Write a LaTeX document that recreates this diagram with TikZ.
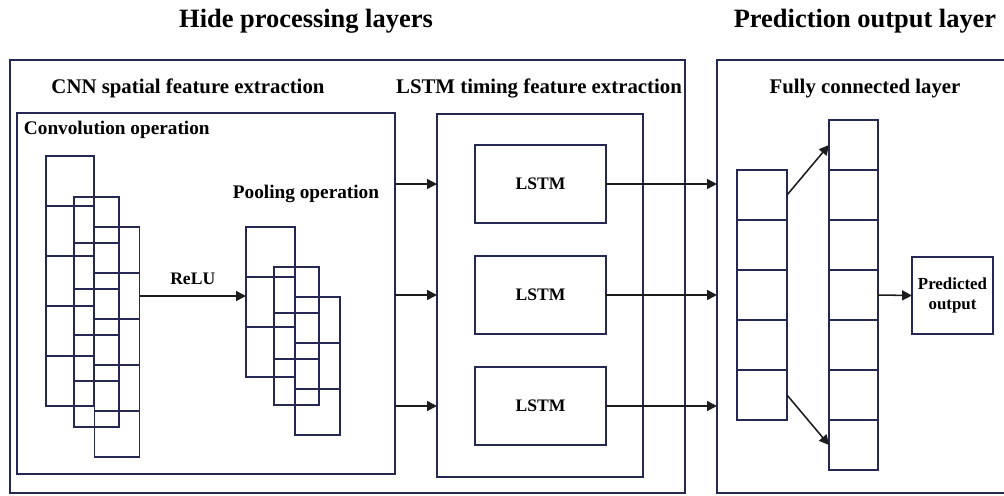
\documentclass[tikz,border=0pt]{standalone}
\usepackage{fontspec}
\setmainfont{Liberation Serif}
\usetikzlibrary{arrows.meta, positioning}

\definecolor{navy}{RGB}{36,40,82}
\definecolor{ink}{RGB}{28,28,28}

\begin{document}
\begin{tikzpicture}[
		x=0.025cm, y=-0.025cm,
		frame/.style={draw=navy, line width=1.1pt, rectangle, inner sep=0pt, outer sep=0pt},
		cell/.style={draw=navy, line width=1.1pt, rectangle, inner sep=0pt, outer sep=0pt},
		convA/.style={cell, minimum width=1.2cm, minimum height=1.25cm},
		convB/.style={cell, minimum width=1.125cm, minimum height=1.15cm},
		poolA/.style={cell, minimum width=1.225cm, minimum height=1.25cm},
		poolB/.style={cell, minimum width=1.125cm, minimum height=1.15cm},
		fcA/.style={cell, minimum width=1.25cm, minimum height=1.25cm},
		fcB/.style={cell, minimum width=1.225cm, minimum height=1.25cm},
		lstm/.style={cell, minimum width=3.275cm, minimum height=1.95cm, font=\fontsize{12.5}{14}\selectfont\bfseries},
		title/.style={font=\fontsize{18.8}{22}\selectfont\bfseries},
		head/.style={font=\fontsize{14.8}{17}\selectfont\bfseries},
		optext/.style={font=\fontsize{13.7}{16}\selectfont\bfseries},
		arrow/.style={-{Triangle[length=7pt, width=7pt]}, draw=ink, fill=ink, line width=1.1pt}
		]
		\useasboundingbox (0,0) rectangle (1004,495);
		
		% Frames
		\node[frame, minimum width=16.875cm, minimum height=10.825cm] (hidden) at (347.5,276.5) {};
		\node[frame, minimum width=7.575cm, minimum height=10.825cm] (outframe) at (868.5,276.5) {};
		\node[frame, minimum width=9.45cm, minimum height=9.025cm] (cnn) at (206,293.5) {};
		\node[frame, minimum width=5.15cm, minimum height=9.075cm] (lstmbox) at (540,295.5) {};
		
		% Titles
		\node[title] (hidetitle) at (306,21) {Hide processing layers};
		\node[title] (predtitle) at (865,21) {Prediction output layer};
		\node[head] (cnntitle) at (188,88) {CNN spatial feature extraction};
		\node[head] (lstmtitle) at (539,88) {LSTM timing feature extraction};
		\node[head] (fctitle) at (865,89) {Fully connected layer};
		\node[optext, anchor=west] (convtext) at (19,130) {Convolution operation};
		\node[optext] (pooltext) at (306,194) {Pooling operation};
		
		% Convolution maps
		\foreach \i in {0,...,4} {
			\node[convA] (cA\i) at (70,181+50*\i) {};
			\node[convB] (cB\i) at (96.5,220+46*\i) {};
			\node[convB] (cC\i) at (117,250+46*\i) {};
		}
		
		% Pooling maps
		\foreach \i in {0,...,2} {
			\node[poolA] (pA\i) at (270.5,252+50*\i) {};
			\node[poolB] (pB\i) at (296.5,290+46*\i) {};
			\node[poolB] (pC\i) at (317.5,320+46*\i) {};
		}
		
		% LSTM cells
		\node[lstm] (lstm1) at (540.5,184) {LSTM};
		\node[lstm] (lstm2) at (540.5,295) {LSTM};
		\node[lstm] (lstm3) at (540.5,406) {LSTM};
		
		% Fully connected columns
		\foreach \i in {0,...,4}
			\node[fcA] (fA\i) at (762,195+50*\i) {};
		\foreach \i in {0,...,6}
			\node[fcB] (fB\i) at (853.5,145+50*\i) {};
		
		\node[cell, minimum width=2.025cm, minimum height=1.925cm, align=center, font=\fontsize{12}{14}\selectfont\bfseries] (pred) at (952.5,295.5) {Predicted\\output};
		
		% Arrows
		\draw[arrow] (cC1.east) -- node[font=\fontsize{12.5}{14}\selectfont\bfseries, above=4pt] (relu) {ReLU} (cC1.east -| pA1.west);
		\foreach \i in {1,2,3} {
			\draw[arrow] (cnn.east |- lstm\i.west) -- (lstmbox.west |- lstm\i.west);
			\draw[arrow] (lstm\i.east) -- (outframe.west |- lstm\i.east);
		}
		\draw[arrow] (fA0.east) -- (fB0.west);
		\draw[arrow] (fA4.east) -- (fB6.west);
		\draw[arrow] (fB3.east) -- (pred.west);
		
	\end{tikzpicture}
\end{document}
